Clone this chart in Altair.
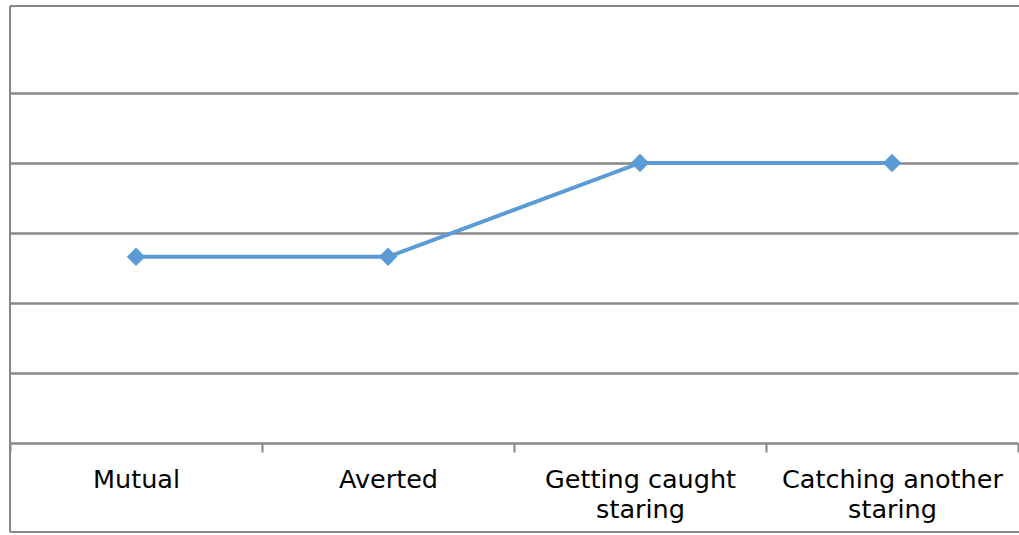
import altair as alt
import pandas as pd

categories = ["Mutual", "Averted", "Getting caught staring", "Catching another staring"]
label_lines = [["Mutual"], ["Averted"], ["Getting caught", "staring"], ["Catching another", "staring"]]
values = [1.33, 1.33, 2.0, 2.0]
grid_values = [0, 0.5, 1.0, 1.5, 2.0, 2.5]

df = pd.DataFrame({"cat": categories, "val": values})

W, H = 1009, 526
PX_PER_UNIT = 140.0
ZERO_FROM_TOP = 437.0
y_dom = [-(H - ZERO_FROM_TOP) / PX_PER_UNIT, ZERO_FROM_TOP / PX_PER_UNIT]

label_expr = (
    "datum.value == 'Getting caught staring' ? ['Getting caught', 'staring'] : "
    "datum.value == 'Catching another staring' ? ['Catching another', 'staring'] : datum.value"
)

GRID = "#878787"
BLUE = "#5B9BD5"

x_enc = alt.X(
    "cat:N",
    sort=categories,
    bandPosition=0.5,
    scale=alt.Scale(type="band", range=[0, 1008], paddingInner=0, paddingOuter=0),
    axis=alt.Axis(
        title=None,
        orient="bottom",
        offset=-(H - ZERO_FROM_TOP),
        domain=False,
        ticks=True,
        tickBand="extent",
        tickSize=9,
        tickColor=GRID,
        tickWidth=2,
        labelExpr=label_expr,
        labelFont="DejaVu Sans",
        labelFontSize=25.5,
        labelColor="#000000",
        labelPadding=15,
        labelLineHeight=30,
        labelLimit=500,
        labelAngle=0,
        labelAlign="center",
        labelBaseline="top",
        labelOverlap=False,
        grid=False,
    ),
)

y_enc = alt.Y(
    "val:Q",
    scale=alt.Scale(domain=y_dom, nice=False, zero=False),
    axis=alt.Axis(
        title=None,
        values=grid_values,
        labels=False,
        ticks=False,
        domain=False,
        grid=True,
        gridColor=GRID,
        gridWidth=2.5,
    ),
)

line = alt.Chart(df).mark_line(
    color=BLUE,
    strokeWidth=4,
    point=alt.OverlayMarkDef(shape="diamond", size=340, filled=True, color=BLUE, opacity=1),
).encode(x=x_enc, y=y_enc)

border_left = alt.Chart(df).mark_rule(color=GRID, strokeWidth=2).encode(
    x=alt.value(0), y=alt.value(0), y2=alt.value(H)
)
border_top = alt.Chart(df).mark_rule(color=GRID, strokeWidth=2).encode(
    x=alt.value(0), x2=alt.value(W + 5), y=alt.value(0)
)
border_bottom = alt.Chart(df).mark_rule(color=GRID, strokeWidth=2).encode(
    x=alt.value(0), x2=alt.value(W + 5), y=alt.value(H)
)

chart = alt.layer(line, border_left, border_top, border_bottom).properties(
    width=W,
    height=H,
    autosize=alt.AutoSizeParams(type="none"),
    padding={"left": 10, "top": 6, "right": 0, "bottom": 3},
    background="white",
).configure_view(stroke=None)

chart.save("out.html", embed_options={"renderer": "svg", "actions": False})
